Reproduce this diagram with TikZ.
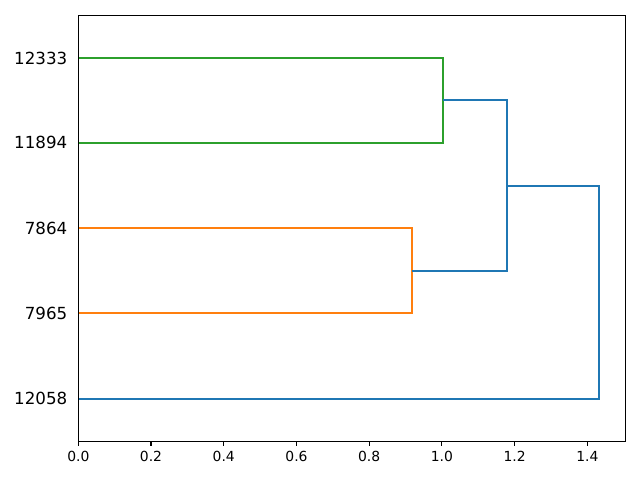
\documentclass[tikz,border=0pt]{standalone}
\usepackage{fontspec}
\setmainfont{DejaVu Sans}
\definecolor{mplblue}{HTML}{1F77B4}
\definecolor{mplorange}{HTML}{FF7F0E}
\definecolor{mplgreen}{HTML}{2CA02C}
\begin{document}
\begin{tikzpicture}[x=0.72pt,y=-0.72pt,
  link/.style={line width=1.5pt,line join=miter},
  spine/.style={line width=0.8pt,line cap=rect},
  ylab/.style={anchor=east,font=\fontsize{12}{14}\selectfont,inner sep=0pt},
  xlab/.style={anchor=north,font=\fontsize{10}{12}\selectfont,inner sep=0pt}]
\useasboundingbox (0,0) rectangle (640,480);
% leaves
\coordinate (l1) at (78.3,58);
\coordinate (l2) at (78.3,142.9);
\coordinate (l3) at (78.3,228.1);
\coordinate (l4) at (78.3,313.3);
\coordinate (l5) at (78.3,398.6);
% links
\draw[link,mplgreen] (l1) -- (443,58) -- (443,142.9) -- (l2);
\draw[link,mplorange] (l3) -- (412,228.1) -- (412,313.3) -- (l4);
\draw[link,mplblue] (443,100.4) -- (507,100.4) -- (507,270.7) -- (412,270.7);
\draw[link,mplblue] (507,185.6) -- (599,185.6) -- (599,398.6) -- (l5);
% axes frame
\draw[spine] (78.3,15.3) rectangle (625.3,441.3);
% y labels
\node[ylab] (y1) at (67.5,58) {12333};
\node[ylab] (y2) at (67.5,142.9) {11894};
\node[ylab] (y3) at (67.5,228.1) {7864};
\node[ylab] (y4) at (67.5,313.3) {7965};
\node[ylab] (y5) at (67.5,398.6) {12058};
% x ticks
\foreach \v/\lab [count=\i] in {0/0.0,0.2/0.2,0.4/0.4,0.6/0.6,0.8/0.8,1.0/1.0,1.2/1.2,1.4/1.4}{
  \draw[line width=0.8pt] ({78.3+363.6*\v},441.3) -- ({78.3+363.6*\v},446.2);
  \node[xlab] (x\i) at ({78.3+363.6*\v},451.2) {\lab};
}
\end{tikzpicture}
\end{document}
